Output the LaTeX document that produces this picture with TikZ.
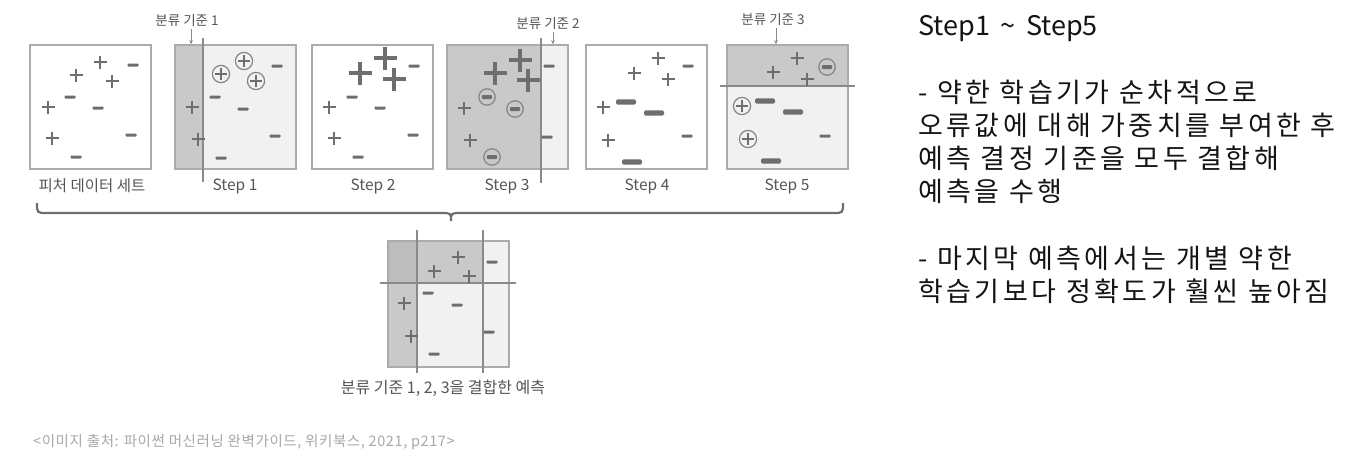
\documentclass[tikz,border=0pt]{standalone}
\usepackage{fontspec}
\setmainfont{Noto Sans CJK KR}
\newfontfamily\krwide[LetterSpace=13]{Noto Sans CJK KR}
\newfontfamily\krsrc[LetterSpace=4]{Noto Sans CJK KR}
\usetikzlibrary{arrows.meta}
\definecolor{symc}{HTML}{6E6E6E}
\definecolor{bordc}{HTML}{ABABAB}
\definecolor{splitc}{HTML}{8A8A8A}
\definecolor{darkf}{HTML}{C9C9C9}
\definecolor{darkerf}{HTML}{BDBDBD}
\definecolor{lightf}{HTML}{F1F1F1}
\definecolor{labc}{HTML}{555555}
\definecolor{srcc}{HTML}{A8A8A8}
\tikzset{
  boxnode/.style={draw=bordc, line width=1.5pt, minimum width=121pt, minimum height=124pt, inner sep=0pt},
  splitline/.style={draw=splitc, line width=1.3pt},
  steplab/.style={text=labc, font=\fontsize{15.5}{18}\selectfont, inner sep=0pt},
  critlab/.style={text=labc, font=\fontsize{13.5}{16}\selectfont, inner sep=0pt},
  downarrow/.style={draw=splitc, line width=0.9pt, -{Stealth[length=4pt,width=3.5pt]}},
  bracestyle/.style={draw=symc, line width=2.2pt},
  righttext/.style={anchor=base west, inner sep=0pt, text=black!92, font=\fontsize{27}{33}\selectfont},
  psmall/.pic={\draw[symc, line width=1.7pt] (-6.5,0)--(6.5,0) (0,-6.5)--(0,6.5);},
  pbig/.pic={\draw[symc, line width=4pt] (-11.5,0)--(11.5,0) (0,-11.5)--(0,11.5);},
  msmall/.pic={\fill[symc, rounded corners=0.8pt] (-5.5,-1.5) rectangle (5.5,1.5);},
  mbig/.pic={\fill[symc, rounded corners=1.5pt] (-10,-2.6) rectangle (10,2.6);},
  pcirc/.pic={\draw[symc!85, line width=1.2pt] (0,0) circle[radius=8.6];
              \draw[symc, line width=1.5pt] (-6,0)--(6,0) (0,-6)--(0,6);},
  mcirc/.pic={\draw[symc!85, line width=1.2pt] (0,0) circle[radius=8.2];
              \fill[symc, rounded corners=1pt] (-5.2,-2) rectangle (5.2,2);}
}
\begin{document}
\begin{tikzpicture}[x=1pt,y=-1pt]
\useasboundingbox (0,0) rectangle (1360,463);
\fill[white] (0,0) rectangle (1360,463);

% ---------- Box 0 : feature data set ----------
\node[boxnode] (b0) at (90.5,107) {};
\pic at (100,62) {psmall}; \pic at (76,75) {psmall}; \pic at (112,81) {psmall};
\pic at (48,107) {psmall}; \pic at (52,138) {psmall};
\pic at (133,65) {msmall}; \pic at (70,97) {msmall}; \pic at (98,108) {msmall};
\pic at (131,135) {msmall}; \pic at (76,157) {msmall};
\node[steplab] (t0) at (92,186) {피처 데이터 세트};

% ---------- Box 1 : Step 1 ----------
\fill[lightf] (175,45) rectangle (296,169);
\fill[darkf] (175,45) rectangle (203,169);
\node[boxnode] (b1) at (235.5,107) {};
\coordinate (s1top) at (203,38);
\coordinate (s1bot) at (203,182);
\draw[splitline] (s1top) -- (s1bot);
\pic at (192,107) {psmall}; \pic at (198,139) {psmall};
\pic at (221,74) {pcirc}; \pic at (244,61) {pcirc}; \pic at (256,81) {pcirc};
\pic at (277,66) {msmall}; \pic at (215,97) {msmall}; \pic at (243,109) {msmall};
\pic at (275,136) {msmall}; \pic at (221,158) {msmall};
\node[steplab] (t1) at (235,186) {Step 1};
\node[critlab] (c1) at (187,20) {분류 기준 1};
\coordinate (a1) at (191,29);
\draw[downarrow] (a1) -- (a1 |- b1.north);

% ---------- Box 2 : Step 2 ----------
\node[boxnode] (b2) at (372.5,107) {};
\pic at (385,58) {pbig}; \pic at (360,73) {pbig}; \pic at (394,79) {pbig};
\pic at (329,107) {psmall}; \pic at (334,138) {psmall};
\pic at (414,66) {msmall}; \pic at (352,97) {msmall}; \pic at (380,108) {msmall};
\pic at (413,135) {msmall}; \pic at (358,157) {msmall};
\node[steplab] (t2) at (373,186) {Step 2};

% ---------- Box 3 : Step 3 ----------
\fill[lightf] (447,45) rectangle (568,169);
\fill[darkf] (447,45) rectangle (541,169);
\node[boxnode] (b3) at (507.5,107) {};
\coordinate (s3top) at (541,38);
\coordinate (s3bot) at (541,183);
\draw[splitline] (s3top) -- (s3bot);
\pic at (520,60) {pbig}; \pic at (495,73) {pbig}; \pic at (528,80) {pbig};
\pic at (464,108) {psmall}; \pic at (470,140) {psmall};
\pic at (487,97) {mcirc}; \pic at (515,109) {mcirc}; \pic at (492,157) {mcirc};
\pic at (549,66) {msmall}; \pic at (547,137) {msmall};
\node[steplab] (t3) at (507,186) {Step 3};
\node[critlab] (c2) at (548,23) {분류 기준 2};
\coordinate (a2) at (553,32);
\draw[downarrow] (a2) -- (a2 |- b3.north);

% ---------- Box 4 : Step 4 ----------
\node[boxnode] (b4) at (646.5,107) {};
\pic at (658,58) {psmall}; \pic at (634,73) {psmall}; \pic at (668,79) {psmall};
\pic at (603,107) {psmall}; \pic at (608,140) {psmall};
\pic at (688,66) {msmall}; \pic at (687,136) {msmall};
\pic at (626,102) {mbig}; \pic at (654,113) {mbig}; \pic at (632,162) {mbig};
\node[steplab] (t4) at (647,186) {Step 4};

% ---------- Box 5 : Step 5 ----------
\fill[lightf] (727,45) rectangle (848,169);
\fill[darkf] (727,45) rectangle (848,86);
\node[boxnode] (b5) at (787.5,107) {};
\coordinate (s5l) at (720,86);
\coordinate (s5r) at (855,86);
\draw[splitline] (s5l) -- (s5r);
\pic at (797,58) {psmall}; \pic at (773,72) {psmall}; \pic at (807,79) {psmall};
\pic at (827,67) {mcirc};
\pic at (742,106) {pcirc}; \pic at (748,139) {pcirc};
\pic at (765,101) {mbig}; \pic at (793,112) {mbig}; \pic at (771,161) {mbig};
\pic at (825,136) {msmall};
\node[steplab] (t5) at (787,186) {Step 5};
\node[critlab] (c3) at (773,19) {분류 기준 3};
\coordinate (a3) at (776,28);
\draw[downarrow] (a3) -- (a3 |- b5.north);

% ---------- Brace ----------
\coordinate (brL) at (37,203);
\coordinate (brM) at (451,221);
\coordinate (brR) at (843,203);
\draw[bracestyle] (brL) .. controls (37,213) .. (47,213) -- (441,213)
  .. controls (451,213) .. (brM) .. controls (451,213) .. (461,213) -- (833,213)
  .. controls (843,213) .. (brR);

% ---------- Combined box ----------
\fill[lightf] (388,241) rectangle (509,367);
\fill[darkf] (388,241) rectangle (483,283);
\fill[darkf] (388,241) rectangle (417,367);
\fill[darkerf] (388,241) rectangle (417,283);
\node[boxnode, minimum height=126pt] (bc) at (448.5,304) {};
\coordinate (v1t) at (417,230); \coordinate (v1b) at (417,373);
\coordinate (v2t) at (483,230); \coordinate (v2b) at (483,373);
\coordinate (hl) at (380,283); \coordinate (hr) at (516,283);
\draw[splitline] (v1t) -- (v1b);
\draw[splitline] (v2t) -- (v2b);
\draw[splitline] (hl) -- (hr);
\pic at (458,257) {psmall}; \pic at (434,271) {psmall}; \pic at (469,276) {psmall};
\pic at (404,303) {psmall}; \pic at (411,336) {psmall};
\pic at (492,262) {msmall}; \pic at (428,293) {msmall}; \pic at (457,305) {msmall};
\pic at (489,332) {msmall}; \pic at (434,354) {msmall};
\node[steplab, font=\fontsize{16}{19}\selectfont] (tc) at (443,388) {분류 기준 1, 2, 3을 결합한 예측};

% ---------- Source ----------
\node[anchor=west, inner sep=0pt, text=srcc, font=\krsrc\fontsize{14.5}{17}\selectfont] (src) at (33,442)
  {<이미지 출처: 파이썬 머신러닝 완벽가이드, 위키북스, 2021, p217>};

% ---------- Right text ----------
\node[righttext] (r1) at (918,35) {Step1 \,\char"7E\, Step5};
\node[righttext, font=\krwide\fontsize{27}{33}\selectfont] (r2) at (918,102) {- 약한 학습기가 순차적으로};
\node[righttext, font=\krwide\fontsize{27}{33}\selectfont] (r3) at (918,135) {오류값에 대해 가중치를 부여한 후};
\node[righttext, font=\krwide\fontsize{27}{33}\selectfont] (r4) at (918,168) {예측 결정 기준을 모두 결합해};
\node[righttext, font=\krwide\fontsize{27}{33}\selectfont] (r5) at (918,201) {예측을 수행};
\node[righttext, font=\krwide\fontsize{27}{33}\selectfont] (r6) at (918,268) {- 마지막 예측에서는 개별 약한};
\node[righttext, font=\krwide\fontsize{27}{33}\selectfont] (r7) at (918,301) {학습기보다 정확도가 훨씬 높아짐};
\end{tikzpicture}
\end{document}
